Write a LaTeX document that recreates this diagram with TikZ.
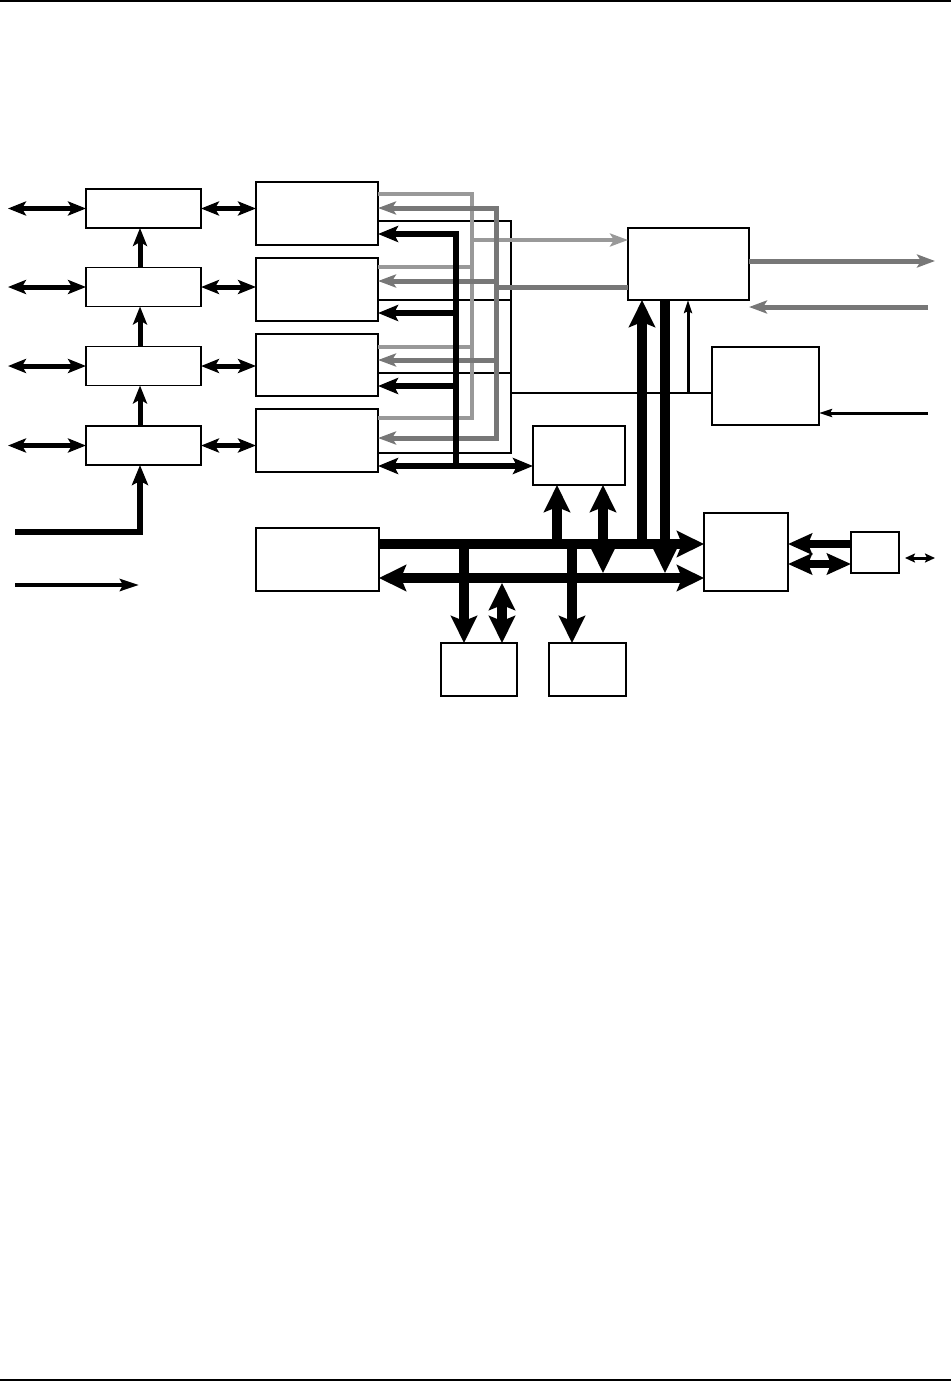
\documentclass[tikz,border=0pt]{standalone}
\usetikzlibrary{arrows.meta}
\definecolor{lgray}{RGB}{153,153,153}
\definecolor{mgray}{RGB}{119,119,119}
\begin{document}
\begin{tikzpicture}[x=1pt,y=-1pt,
 box/.style={draw,line width=1.3pt,inner sep=0pt,outer sep=0pt,fill=white},
 la/.style={line width=5pt,>={Stealth[length=18pt,width=14pt,inset=4pt]}},
 tk/.style={line width=6pt,>={Stealth[length=20pt,width=16pt,inset=4pt]}},
 lg/.style={lgray,line width=4pt,>={Stealth[length=18pt,width=13pt,inset=4pt]}},
 mg/.style={mgray,line width=5pt,>={Stealth[length=18pt,width=13pt,inset=4pt]}},
 tb/.style={line width=2pt},
 tba/.style={line width=3pt,>={Stealth[length=13pt,width=8pt,inset=2pt]}},
 thk/.style={line width=4pt,>={Stealth[length=19pt,width=12pt,inset=3pt]}},
 bus/.style={line width=10pt,>={Stealth[length=27pt,width=26pt,inset=5pt]}},
 bs/.style={line width=8pt,>={Stealth[length=24pt,width=21pt,inset=4pt]}},
 sm/.style={line width=3pt,>={Stealth[length=10pt,width=9pt,inset=2pt]}}]
\useasboundingbox (0,0) rectangle (952,1381);
% page rules
\coordinate (tr1) at (0,1); \coordinate (tr2) at (951,1);
\coordinate (br1) at (0,1379.5); \coordinate (br2) at (951,1379.5);
\draw[line width=2pt] (tr1) -- (tr2);
\draw[line width=2pt] (br1) -- (br2);
% left column boxes
\node[box,minimum width=115pt,minimum height=39pt] (L1) at (143.5,208.5) {};
\node[box,minimum width=115pt,minimum height=39pt] (L2) at (143.5,287) {};
\node[box,minimum width=115pt,minimum height=39pt] (L3) at (143.5,366) {};
\node[box,minimum width=115pt,minimum height=39pt] (L4) at (143.5,445.5) {};
% middle column boxes
\node[box,minimum width=122pt,minimum height=63pt] (M1) at (317,213.5) {};
\node[box,minimum width=122pt,minimum height=63pt] (M2) at (317,289.5) {};
\node[box,minimum width=122pt,minimum height=62pt] (M3) at (317,365) {};
\node[box,minimum width=122pt,minimum height=63pt] (M4) at (317,440.5) {};
\node[box,minimum width=123pt,minimum height=63pt] (Mem) at (317.5,559.5) {};
% other boxes
\node[box,minimum width=92pt,minimum height=59pt] (S1) at (579,455.5) {};
\node[box,minimum width=121pt,minimum height=72pt] (B) at (688.5,264) {};
\node[box,minimum width=107pt,minimum height=78pt] (RTC) at (765.5,386) {};
\node[box,line width=2.2pt,minimum width=84pt,minimum height=78pt] (Br) at (746,552) {};
\node[box,line width=2pt,minimum width=48pt,minimum height=41pt] (SR) at (875,552.5) {};
\node[box,minimum width=76pt,minimum height=53pt] (Bot1) at (479,669.5) {};
\node[box,minimum width=77pt,minimum height=53pt] (Bot2) at (587.5,669.5) {};
% left column arrows
\coordinate (lx) at (8,0);
\coordinate (lv) at (140,0);
\foreach \n/\m in {L1/M1,L2/M2,L3/M3,L4/M4}{
  \draw[la,<->] (lx |- \n.west) -- (\n.west);
  \draw[la,<->] (\n.east) -- (\n.east -| \m.west);
}
\draw[la,->] (lv |- L2.north) -- (lv |- L1.south);
\draw[la,->] (lv |- L3.north) -- (lv |- L2.south);
\draw[la,->] (lv |- L4.north) -- (lv |- L3.south);
\coordinate (inA) at (15,532); \coordinate (inAc) at (140,532);
\draw[tk,->] (inA) -- (inAc) -- (inAc |- L4.south);
\coordinate (inB) at (15,585); \coordinate (inBe) at (139,585);
\draw[thk,->] (inB) -- (inBe);
% thin black lines
\coordinate (tb1) at (511,221); \coordinate (tb2) at (511,300);
\coordinate (tb3) at (511,373); \coordinate (tb4) at (511,453);
\coordinate (tbJ) at (511,393); \coordinate (tbU) at (688,393);
\draw[tb] (M1.east |- tb1) -- (tb1) -- (tb4) -- (M4.east |- tb4);
\draw[tb] (M2.east |- tb2) -- (tb2);
\draw[tb] (M3.east |- tb3) -- (tb3);
\draw[tb] (tbJ) -- (RTC.west |- tbJ);
\draw[tba,->] (tbU) -- (tbU |- B.south);
% light gray lines
\coordinate (lg1) at (472,194); \coordinate (lg2) at (472,267);
\coordinate (lg3) at (472,347); \coordinate (lg4) at (472,418);
\coordinate (lgJ) at (472,240);
\draw[lg] (M1.east |- lg1) -- (lg1) -- (lg4) -- (M4.east |- lg4);
\draw[lg] (M2.east |- lg2) -- (lg2);
\draw[lg] (M3.east |- lg3) -- (lg3);
\draw[lg,->] (lgJ) -- (lgJ -| B.west);
% medium gray lines
\coordinate (mg1) at (496,208); \coordinate (mg2) at (496,281);
\coordinate (mg3) at (496,360); \coordinate (mg4) at (496,438);
\coordinate (mgJ) at (496,287);
\draw[mg,<->] (M1.east |- mg1) -- (mg1) -- (mg4) -- (M4.east |- mg4);
\draw[mg,->] (mg2) -- (M2.east |- mg2);
\draw[mg,->] (mg3) -- (M3.east |- mg3);
\draw[mg] (mgJ) -- (B.west |- mgJ);
% thick black lines
\coordinate (tk1) at (456,234); \coordinate (tk2) at (456,313);
\coordinate (tk3) at (456,386); \coordinate (tk4) at (456,466);
\draw[tk,<-] (M1.east |- tk1) -- (tk1) -- (tk4);
\draw[tk,->] (tk2) -- (M2.east |- tk2);
\draw[tk,->] (tk3) -- (M3.east |- tk3);
\draw[tk,<->] (M4.east |- tk4) -- (S1.west |- tk4);
% right side
\coordinate (outR) at (935,261); \coordinate (inR) at (928,307);
\coordinate (inT) at (928,413);
\draw[mg,->] (B.east |- outR) -- (outR);
\draw[mg,->] (inR) -- (inR -| B.east);
\draw[tba,->] (inT) -- (RTC.east |- inT);
% buses
\coordinate (ub) at (0,544); \coordinate (lb) at (0,578);
\draw[bus,->] (Mem.east |- ub) -- (Br.west |- ub);
\draw[bus,<->] (Mem.east |- lb) -- (Br.west |- lb);
\coordinate (v1) at (557,544); \coordinate (v2) at (603,573);
\coordinate (v3) at (464,544); \coordinate (v4) at (502,583);
\coordinate (v5) at (572,544); \coordinate (v6) at (642,544);
\coordinate (v7) at (665,573);
\draw[bus,->] (v1) -- (v1 |- S1.south);
\draw[bus,<->] (v2 |- S1.south) -- (v2);
\draw[bus,->] (v3) -- (v3 |- Bot1.north);
\draw[bus,<->] (v4) -- (v4 |- Bot1.north);
\draw[bus,->] (v5) -- (v5 |- Bot2.north);
\draw[bus,->] (v6) -- (v6 |- B.south);
\draw[bus,->] (v7 |- B.south) -- (v7);
% bridge to small box
\coordinate (s1) at (0,544); \coordinate (s2) at (0,564);
\draw[bs,->] (SR.west |- s1) -- (Br.east |- s1);
\draw[bs,<->] (Br.east |- s2) -- (SR.west |- s2);
\coordinate (f1) at (905,558); \coordinate (f2) at (935,558);
\draw[sm,<->] (f1) -- (f2);
\end{tikzpicture}
\end{document}
